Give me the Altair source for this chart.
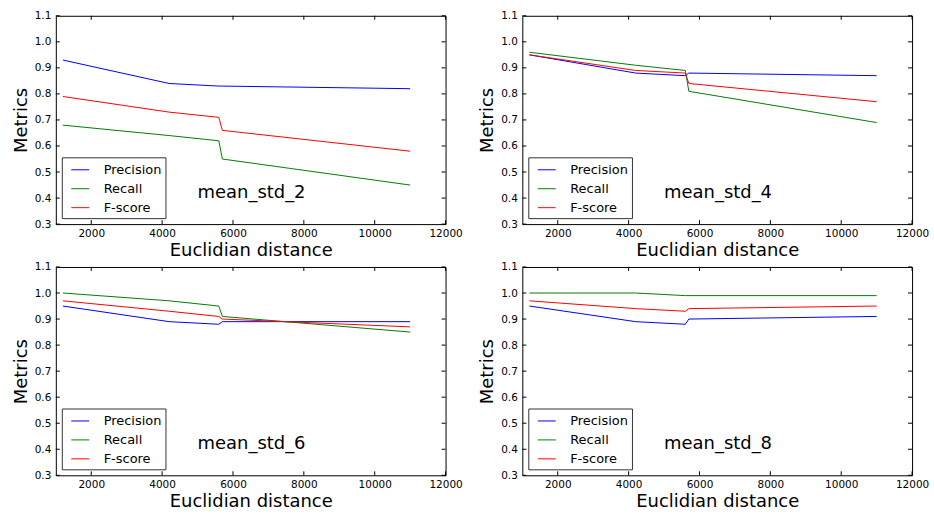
import altair as alt
import pandas as pd

# ---- data ----
distances = [1200, 4200, 5600, 5700, 11000]
metric_names = ["Precision", "Recall", "F-score"]
metric_colors = ["#0000ff", "#008000", "#ff0000"]
panel_names = ["mean_std_2", "mean_std_4", "mean_std_6", "mean_std_8"]

precision_2 = [0.93, 0.84, 0.83, 0.83, 0.82]
recall_2 = [0.68, 0.64, 0.62, 0.55, 0.45]
fscore_2 = [0.79, 0.73, 0.71, 0.66, 0.58]

precision_4 = [0.95, 0.88, 0.87, 0.88, 0.87]
recall_4 = [0.96, 0.91, 0.89, 0.81, 0.69]
fscore_4 = [0.95, 0.89, 0.88, 0.84, 0.77]

precision_6 = [0.95, 0.89, 0.88, 0.89, 0.89]
recall_6 = [1.00, 0.97, 0.95, 0.91, 0.85]
fscore_6 = [0.97, 0.93, 0.91, 0.90, 0.87]

precision_8 = [0.95, 0.89, 0.88, 0.90, 0.91]
recall_8 = [1.00, 1.00, 0.99, 0.99, 0.99]
fscore_8 = [0.97, 0.94, 0.93, 0.94, 0.95]

x_ticks = [2000, 4000, 6000, 8000, 10000, 12000]
y_ticks = [0.3, 0.4, 0.5, 0.6, 0.7, 0.8, 0.9, 1.0, 1.1]
x_domain = [1000, 12000]
y_domain = [0.3, 1.1]
label_x = 5000
label_y = 0.4

series = {
    "mean_std_2": [precision_2, recall_2, fscore_2],
    "mean_std_4": [precision_4, recall_4, fscore_4],
    "mean_std_6": [precision_6, recall_6, fscore_6],
    "mean_std_8": [precision_8, recall_8, fscore_8],
}

FONT = "DejaVu Sans"
W, H = 391, 209
TICK = 4

X_AXIS = alt.Axis(values=x_ticks, format="d", title="Euclidian distance",
                  ticks=False, tickSize=0, domain=False, grid=False,
                  labelFont=FONT, labelFontSize=10.5, labelColor="black",
                  labelPadding=4, labelFlush=False, labelOverlap=False,
                  titleFont=FONT, titleFontSize=18, titleFontWeight="normal",
                  titleColor="black", titlePadding=3)
Y_AXIS = alt.Axis(values=y_ticks, format=".1f", title="Metrics",
                  ticks=False, tickSize=0, domain=False, grid=False,
                  labelFont=FONT, labelFontSize=10.5, labelColor="black",
                  labelPadding=5, labelFlush=False, labelOverlap=False,
                  titleFont=FONT, titleFontSize=18, titleFontWeight="normal",
                  titleColor="black", titlePadding=4)


def panel(name):
    rows = []
    for m, vals in zip(metric_names, series[name]):
        for d, v in zip(distances, vals):
            rows.append({"distance": d, "value": v, "metric": m})
    df = pd.DataFrame(rows)

    xs = alt.Scale(domain=x_domain, nice=False, zero=False)
    ys = alt.Scale(domain=y_domain, nice=False, zero=False)

    def X(f):
        return alt.X(f, scale=xs, axis=X_AXIS, title="Euclidian distance")

    def Y(f):
        return alt.Y(f, scale=ys, axis=Y_AXIS, title="Metrics")

    lines = alt.Chart(df).mark_line(strokeWidth=1).encode(
        x=X("distance:Q"), y=Y("value:Q"),
        color=alt.Color(
            "metric:N",
            scale=alt.Scale(domain=metric_names, range=metric_colors),
            sort=metric_names,
            legend=alt.Legend(
                title=None, orient="none", legendX=6, legendY=142,
                symbolType="stroke", symbolSize=324, symbolStrokeWidth=1,
                symbolOffset=6, labelOffset=14, labelFont=FONT,
                labelFontSize=13, labelColor="black", rowPadding=2,
                padding=3, strokeColor="#333333", fillColor="white",
                cornerRadius=0)),
        order=alt.Order("distance:Q"),
    )

    xt = pd.DataFrame({"t": x_ticks})
    yt = pd.DataFrame({"t": y_ticks})
    tick_x_bottom = alt.Chart(xt).mark_rule(color="black", strokeWidth=1).encode(
        x=X("t:Q"), y=alt.value(H), y2=alt.value(H - TICK))
    tick_x_top = alt.Chart(xt).mark_rule(color="black", strokeWidth=1).encode(
        x=X("t:Q"), y=alt.value(0), y2=alt.value(TICK))
    tick_y_left = alt.Chart(yt).mark_rule(color="black", strokeWidth=1).encode(
        y=Y("t:Q"), x=alt.value(0), x2=alt.value(TICK))
    tick_y_right = alt.Chart(yt).mark_rule(color="black", strokeWidth=1).encode(
        y=Y("t:Q"), x=alt.value(W), x2=alt.value(W - TICK))

    lab = alt.Chart(pd.DataFrame({"x": [label_x], "y": [label_y], "text": [name]})).mark_text(
        align="left", baseline="alphabetic", font=FONT, fontSize=18, color="black"
    ).encode(x=X("x:Q"), y=Y("y:Q"), text="text:N")

    return alt.layer(lines, tick_x_bottom, tick_x_top, tick_y_left, tick_y_right, lab).properties(
        width=W, height=H)


chart = alt.concat(
    *[panel(n) for n in panel_names], columns=2,
    spacing=alt.RowColnumber(row=43, column=77), bounds="flush"
).resolve_legend(color="independent").properties(
    padding={"left": 11, "top": 9, "right": 4, "bottom": 4},
    background="white",
).configure_view(stroke="black", strokeWidth=1)

chart.save("out.html", embed_options={"renderer": "svg", "actions": False})
